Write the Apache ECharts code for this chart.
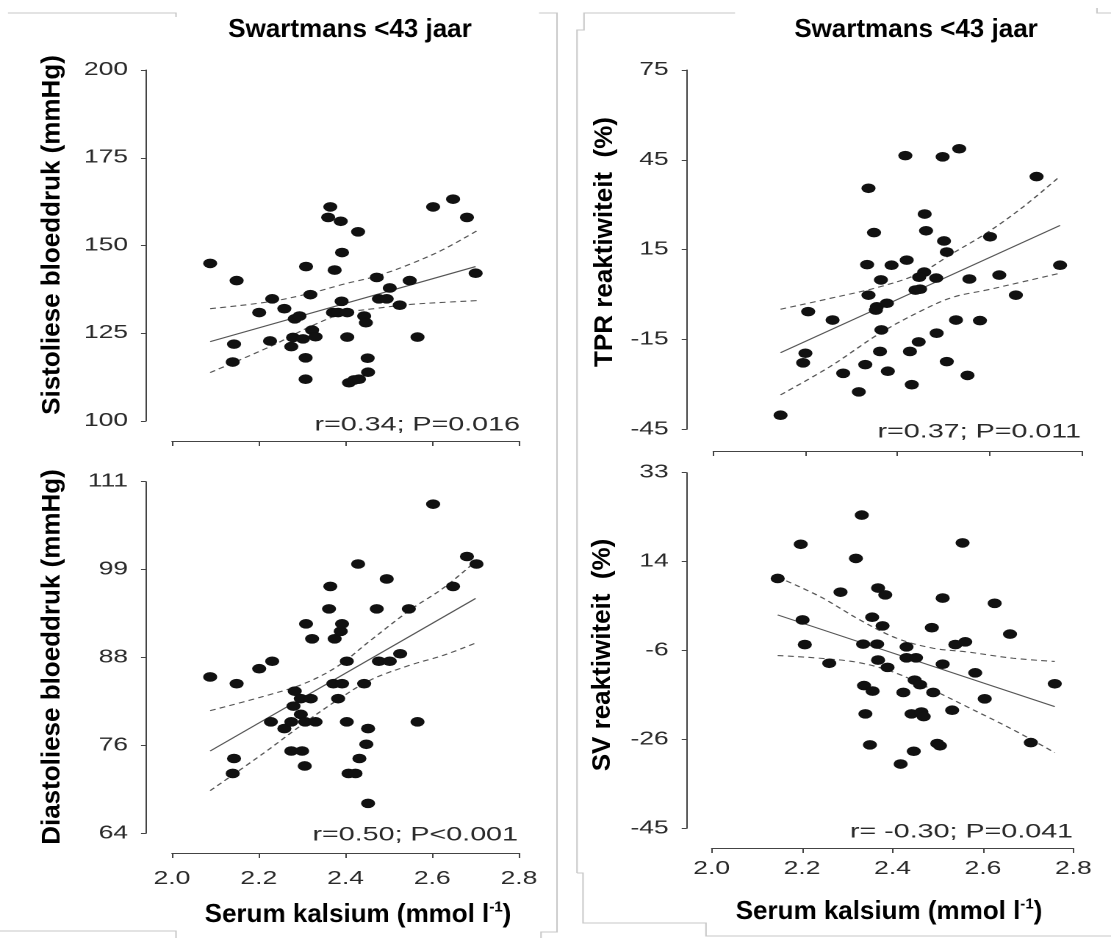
<!DOCTYPE html>
<html><head><meta charset="utf-8">
<script src="https://cdn.jsdelivr.net/npm/echarts@6/dist/echarts.min.js"></script>
<style>
html,body{margin:0;padding:0;background:#fff;overflow:hidden}
#wrap{width:1111px;height:938px;overflow:hidden;position:relative;background:#fff}
#chart{width:756px;height:938px;transform:scaleX(1.4695767);transform-origin:0 0}
</style></head>
<body><div id="wrap"><div id="chart"></div></div>
<script>
// ---------------- DATA ----------------
const panelTitle = 'Swartmans <43 jaar';
const xTitle = 'Serum kalsium (mmol l';
const xTitleSup = '-1';
const xTicks = [2.0, 2.2, 2.4, 2.6, 2.8];
const xTickLabels = ['2.0', '2.2', '2.4', '2.6', '2.8'];

// Top left: systolic
const sysName = 'Sistoliese bloeddruk (mmHg)';
const sysStat = 'r=0.34; P=0.016';
const sysTicks = [100, 125, 150, 175, 200];
const sysTickLabels = ['100', '125', '150', '175', '200'];
const sysCa = [2.088,2.149,2.231,2.201,2.259,2.226,2.143,2.140,2.283,2.294,2.309,2.319,2.279,2.302,2.275,2.323,2.331,2.308,2.308,2.365,2.360,2.389,2.429,2.392,2.375,2.391,2.371,2.383,2.404,2.443,2.447,2.404,2.451,2.452,2.408,2.420,2.431,2.472,2.477,2.495,2.502,2.525,2.548,2.566,2.602,2.648,2.680,2.700];
const sysVal = [144.9,140.0,134.8,130.9,132.0,122.8,121.9,116.8,129.1,129.9,144.0,136.0,123.8,123.4,121.2,125.9,124.0,118.0,111.9,161.0,158.0,156.9,153.9,148.0,143.0,134.1,130.9,130.9,130.9,129.9,128.0,123.9,117.9,113.9,110.9,111.7,111.9,140.9,134.8,134.8,137.9,133.0,140.0,123.9,161.0,163.2,158.0,142.1];
const sysFitCa = [2.088, 2.700];
const sysFit = [122.6, 144.0];
const sysCiCa = [2.088, 2.226, 2.319, 2.396, 2.472, 2.549, 2.626, 2.703];
const sysCiUp = [132.0, 134.0, 136.4, 139.0, 141.3, 144.7, 148.9, 154.2];
const sysCiLo = [113.8, 121.2, 126.9, 130.7, 132.1, 133.2, 133.8, 134.3];

// Bottom left: diastolic
const diaName = 'Diastoliese bloeddruk (mmHg)';
const diaStat = 'r=0.50; P<0.001';
const diaTicks = [64, 75.75, 87.5, 99.25, 111];
const diaTickLabels = ['64', '76', '88', '99', '111'];
const diaCa = [2.088,2.149,2.201,2.231,2.228,2.259,2.275,2.283,2.280,2.297,2.297,2.307,2.331,2.320,2.275,2.300,2.306,2.143,2.140,2.309,2.323,2.365,2.362,2.375,2.389,2.392,2.403,2.372,2.392,2.383,2.403,2.429,2.443,2.452,2.448,2.432,2.407,2.423,2.452,2.472,2.495,2.477,2.502,2.526,2.546,2.566,2.602,2.648,2.680,2.702];
const diaVal = [84.9,84.0,86.0,87.0,78.9,78.0,78.9,83.0,81.0,82.0,79.9,78.9,78.9,82.0,75.0,75.0,73.0,74.0,72.0,92.0,90.0,97.0,94.0,90.0,91.0,92.0,87.0,84.0,84.0,82.0,78.9,100.0,84.0,78.0,75.9,74.0,72.0,72.0,68.0,94.0,98.0,87.0,87.0,88.0,94.0,78.9,108.0,97.0,101.0,100.0];
const diaFitCa = [2.088, 2.700];
const diaFit = [75.0, 95.4];
const diaCiCa = [2.088, 2.211, 2.304, 2.381, 2.458, 2.550, 2.626, 2.703];
const diaCiUp = [80.4, 82.3, 84.0, 86.3, 89.8, 93.9, 96.8, 100.5];
const diaCiLo = [69.7, 74.7, 78.7, 81.8, 84.5, 86.5, 87.8, 89.5];

// Top right: TPR
const tprName = 'TPR reaktiwiteit  (%)';
const tprStat = 'r=0.37; P=0.011';
const tprTicks = [-45, -15, 15, 45, 75];
const tprTickLabels = ['-45', '-15', '15', '45', '75'];
const tprCa = [2.417,2.498,2.534,2.702,2.337,2.459,2.349,2.462,2.501,2.601,2.507,2.334,2.387,2.420,2.753,2.458,2.447,2.484,2.556,2.621,2.364,2.439,2.449,2.657,2.337,2.206,2.355,2.377,2.353,2.259,2.365,2.527,2.579,2.485,2.446,2.362,2.427,2.200,2.195,2.330,2.282,2.379,2.507,2.552,2.316,2.431,2.146];
const tprVal = [46.4,46.0,48.7,39.4,35.5,26.9,20.7,21.3,17.9,19.3,14.2,10.0,9.8,11.5,9.8,7.5,5.8,5.5,5.2,6.5,4.9,1.5,1.8,-0.2,-0.2,-5.7,-4.1,-2.9,-5.2,-8.5,-11.8,-8.5,-8.7,-12.9,-15.8,-19.0,-19.0,-19.6,-22.8,-23.4,-26.3,-25.6,-22.4,-27.0,-32.5,-30.1,-40.3];
const tprFitCa = [2.146, 2.753];
const tprFit = [-19.4, 23.1];
const tprCiCa = [2.146, 2.253, 2.362, 2.448, 2.520, 2.593, 2.673, 2.752];
const tprCiUp = [-4.9, -1.3, 2.6, 7.1, 13.8, 20.5, 29.3, 39.4];
const tprCiLo = [-33.5, -24.1, -12.9, -5.7, -0.9, 1.5, 4.3, 7.1];

// Bottom right: SV
const svName = 'SV reaktiwiteit  (%)';
const svStat = 'r= -0.30; P=0.041';
const svTicks = [-45, -25.5, -6, 13.5, 33];
const svTickLabels = ['-45', '-26', '-6', '14', '33'];
const svCa = [2.332,2.197,2.555,2.319,2.146,2.285,2.368,2.384,2.511,2.626,2.201,2.355,2.378,2.487,2.660,2.206,2.335,2.366,2.431,2.539,2.561,2.260,2.368,2.389,2.431,2.452,2.511,2.583,2.759,2.337,2.356,2.424,2.449,2.461,2.490,2.604,2.340,2.442,2.464,2.469,2.532,2.350,2.447,2.499,2.505,2.706,2.418];
const svVal = [23.7,17.3,17.6,14.2,9.8,6.8,7.7,6.2,5.5,4.35,0.7,1.3,-0.6,-1.0,-2.4,-4.7,-4.6,-4.6,-5.2,-4.7,-4.1,-8.8,-8.1,-9.7,-7.6,-7.6,-9.0,-10.9,-13.3,-13.7,-14.9,-15.2,-12.5,-13.5,-15.2,-16.6,-19.9,-19.9,-19.5,-20.5,-19.1,-26.7,-28.1,-26.4,-26.9,-26.2,-30.9];
const svFitCa = [2.146, 2.759];
const svFit = [1.8, -18.3];
const svCiCa = [2.146, 2.240, 2.328, 2.409, 2.490, 2.564, 2.667, 2.759];
const svCiUp = [10.1, 5.8, 0.7, -3.3, -5.5, -6.3, -7.7, -8.4];
const svCiLo = [-7.1, -7.7, -8.7, -11.0, -14.7, -18.3, -23.4, -28.4];

// ---------------- LAYOUT ----------------
const S = 1111 / 756;          // horizontal stretch of the original figure
const px = v => v / S;         // final-pixel x -> chart-pixel x
const FONT = "'Liberation Sans', Arial, Helvetica, sans-serif";

const panels = [
  {name: sysName, stat: sysStat, ca: sysCa, val: sysVal, fitCa: sysFitCa, fit: sysFit, ciCa: sysCiCa, up: sysCiUp, lo: sysCiLo, ticks: sysTicks, labels: sysTickLabels,
   L: 172, R: 519, T: 70, B: 421, yAx: 146, xAy: 441, xLab: false, xMargin: 16, statX: 520, statY: 425, nameX: 52, nameY: 235},
  {name: diaName, stat: diaStat, ca: diaCa, val: diaVal, fitCa: diaFitCa, fit: diaFit, ciCa: diaCiCa, up: diaCiUp, lo: diaCiLo, ticks: diaTicks, labels: diaTickLabels,
   L: 172, R: 519, T: 481.7, B: 833.3, yAx: 146, xAy: 853, xLab: true, xMargin: 17, statX: 518, statY: 835, nameX: 52, nameY: 657},
  {name: tprName, stat: tprStat, ca: tprCa, val: tprVal, fitCa: tprFitCa, fit: tprFit, ciCa: tprCiCa, up: tprCiUp, lo: tprCiLo, ticks: tprTicks, labels: tprTickLabels,
   L: 713.3, R: 1081.7, T: 70, B: 429.3, yAx: 686.7, xAy: 451, xLab: false, xMargin: 13, statX: 1081, statY: 432, nameX: 605, nameY: 242},
  {name: svName, stat: svStat, ca: svCa, val: svVal, fitCa: svFitCa, fit: svFit, ciCa: svCiCa, up: svCiUp, lo: svCiLo, ticks: svTicks, labels: svTickLabels,
   L: 711.7, R: 1073.3, T: 472.7, B: 828.3, yAx: 686.7, xAy: 848, xLab: true, xMargin: 12, statX: 1073, statY: 832, nameX: 603, nameY: 655}
];

const AXC = '#444', LBC = '#2a2a2a', LNC = '#555';
const grid = [], xAxis = [], yAxis = [], series = [], graphic = [];
const xMin = xTicks[0], xMax = xTicks[xTicks.length - 1];
const xInt = +((xMax - xMin) / (xTicks.length - 1)).toFixed(6);
const zip = (a, b) => a.map((v, i) => [v, b[i]]);

panels.forEach((p, i) => {
  grid.push({left: px(p.L), right: 756 - px(p.R), top: p.T, bottom: 938 - p.B, containLabel: false});
  const yMin = p.ticks[0], yMax = p.ticks[p.ticks.length - 1];
  const yInt = +((yMax - yMin) / (p.ticks.length - 1)).toFixed(6);
  xAxis.push({
    gridIndex: i, type: 'value', min: xMin, max: xMax, interval: xInt, offset: p.xAy - p.B,
    axisLine: {show: true, onZero: false, lineStyle: {color: AXC, width: 1}},
    axisTick: {show: true, length: 5, lineStyle: {color: AXC, width: 1}},
    axisLabel: {show: p.xLab, margin: p.xMargin, fontSize: 18, fontFamily: FONT, color: LBC,
      formatter: v => xTickLabels[Math.round((v - xMin) / xInt)]},
    splitLine: {show: false}
  });
  yAxis.push({
    gridIndex: i, type: 'value', min: yMin, max: yMax, interval: yInt, offset: px(p.L - p.yAx),
    axisLine: {show: true, onZero: false, lineStyle: {color: AXC, width: 1}},
    axisTick: {show: true, length: px(5), lineStyle: {color: AXC, width: 1}},
    axisLabel: {margin: px(18), fontSize: 18, fontFamily: FONT, color: LBC,
      formatter: v => p.labels[Math.round((v - yMin) / yInt)]},
    splitLine: {show: false}
  });
  series.push({type: 'line', xAxisIndex: i, yAxisIndex: i, data: zip(p.fitCa, p.fit), symbol: 'none',
    lineStyle: {color: LNC, width: 1.1}, z: 2, silent: true});
  series.push({type: 'line', xAxisIndex: i, yAxisIndex: i, data: zip(p.ciCa, p.up), symbol: 'none', smooth: 0.35,
    lineStyle: {color: LNC, width: 1.1, type: [4, 3]}, z: 2, silent: true});
  series.push({type: 'line', xAxisIndex: i, yAxisIndex: i, data: zip(p.ciCa, p.lo), symbol: 'none', smooth: 0.35,
    lineStyle: {color: LNC, width: 1.1, type: [4, 3]}, z: 2, silent: true});
  series.push({type: 'scatter', xAxisIndex: i, yAxisIndex: i, data: zip(p.ca, p.val), symbol: 'circle', symbolSize: 9.6,
    itemStyle: {color: '#111', opacity: 1}, z: 5, silent: true});
  // stat annotation (part of original plot, stretched)
  graphic.push({type: 'text', x: px(p.statX), y: p.statY, silent: true,
    style: {text: p.stat, fontSize: 19.5, fontFamily: FONT, fill: LBC, align: 'right', verticalAlign: 'middle'}});
  // y-axis title (added text, not stretched)
  graphic.push({type: 'text', x: px(p.nameX), y: p.nameY, rotation: Math.PI / 2, scaleY: 1 / S, silent: true,
    style: {text: p.name, fontSize: 26, fontWeight: 'bold', fontFamily: FONT, fill: '#000', align: 'center', verticalAlign: 'middle'}});
});

// panel titles
[[350, 30], [916, 30]].forEach(([x, y]) => graphic.push({type: 'text', x: px(x), y: y, scaleX: 1 / S, silent: true,
  style: {text: panelTitle, fontSize: 26, fontWeight: 'bold', fontFamily: FONT, fill: '#000', align: 'center', verticalAlign: 'middle'}}));
// x-axis titles
[[358, 915], [889, 912]].forEach(([x, y]) => graphic.push({type: 'text', x: px(x), y: y, scaleX: 1 / S, silent: true,
  style: {text: xTitle + '{sup|' + xTitleSup + '})', fontSize: 26, fontWeight: 'bold', fontFamily: FONT, fill: '#000',
    align: 'center', verticalAlign: 'middle', lineHeight: 30,
    rich: {sup: {fontSize: 15, fontWeight: 'bold', fontFamily: FONT, fill: '#000', verticalAlign: 'top', lineHeight: 15}}}}));

// faint page-frame lines of the source document
const frames = [
  [[8,13],[176,13],[176,17]],
  [[539,13],[557,13],[557,932],[541,932],[541,938]],
  [[0,931],[176,931],[176,938]],
  [[577,873],[577,30],[584,30],[584,13],[735,13]],
  [[1097,8],[1097,13],[1111,13]],
  [[577,873],[583,873],[583,923],[706,923],[706,936],[1111,936]]
];
frames.forEach(pts => graphic.push({type: 'polyline', silent: true, z: 0,
  shape: {points: pts.map(([x, y]) => [px(x), y])}, style: {stroke: '#c8c8c8', lineWidth: 1, fill: null}}));

const chart = echarts.init(document.getElementById('chart'), null, {renderer: 'canvas', devicePixelRatio: 2});
chart.setOption({animation: false, backgroundColor: '#fff', grid, xAxis, yAxis, series, graphic});
</script>
</body></html>
